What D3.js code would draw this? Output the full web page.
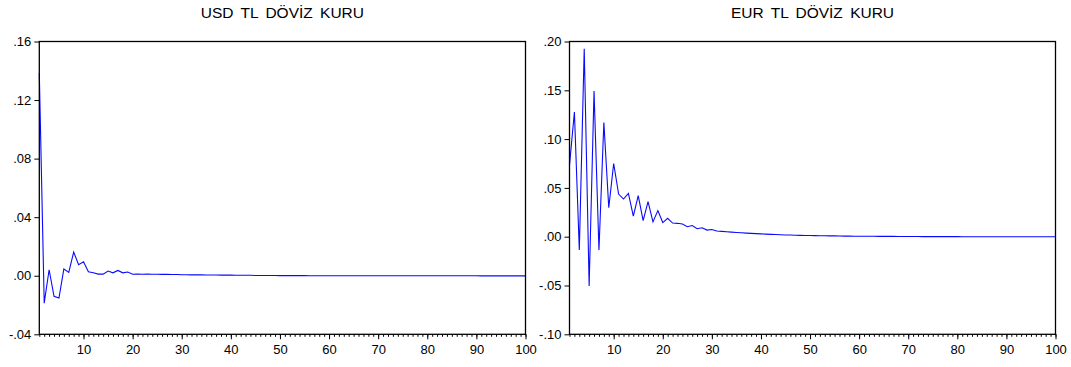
<!DOCTYPE html>
<html>
<head>
<meta charset="utf-8">
<script src="https://cdn.jsdelivr.net/npm/d3@7"></script>
<style>
  body { margin: 0; background: #fff; }
  text { font-family: "Liberation Sans", Arial, sans-serif; fill: #000; }
</style>
</head>
<body>
<svg id="chart" width="1071" height="367"></svg>
<script>
// periods 1..100
const periods = d3.range(1, 101);

const usdValues = [
  0.1384, -0.0187, 0.0041, -0.0141, -0.0152, 0.0046, 0.0023, 0.0162, 0.0075, 0.0096,
  0.0027, 0.0020, 0.0011, 0.0011, 0.0032, 0.0020, 0.0036, 0.0020, 0.0025, 0.0010,
  0.0012, 0.0010, 0.0011, 0.0010, 0.0010, 0.0009, 0.0009, 0.0008, 0.0008, 0.0007,
  0.0007, 0.0006, 0.0006, 0.0006, 0.0005, 0.0005, 0.0005, 0.0004, 0.0004, 0.0004,
  0.0003, 0.0003, 0.0003, 0.0003, 0.0002, 0.0002, 0.0002, 0.0002, 0.0002, 0.0001,
  0.0001, 0.0001, 0.0001, 0.0001, 0.0001, 0.0000, 0.0000, 0.0000, 0.0000, 0.0000,
  0.0000, 0.0000, 0.0000, 0.0000, 0.0000, 0.0000, 0.0000, 0.0000, 0.0000, 0.0000,
  0.0000, 0.0000, 0.0000, 0.0000, 0.0000, 0.0000, 0.0000, 0.0000, 0.0000, 0.0000,
  0.0000, 0.0000, 0.0000, 0.0000, 0.0000, 0.0000, 0.0000, 0.0000, 0.0000, 0.0000,
  -0.0001, -0.0001, -0.0001, -0.0001, -0.0001, -0.0001, -0.0001, -0.0001, -0.0001, -0.0001
];

const eurValues = [
  0.0733, 0.1278, -0.0136, 0.1926, -0.0504, 0.1493, -0.0136, 0.1170, 0.0297, 0.0750,
  0.0437, 0.0386, 0.0443, 0.0210, 0.0421, 0.0164, 0.0360, 0.0152, 0.0268, 0.0145,
  0.0188, 0.0140, 0.0137, 0.0130, 0.0102, 0.0114, 0.0082, 0.0091, 0.0068, 0.0074,
  0.0058, 0.0055, 0.0051, 0.0047, 0.0043, 0.0040, 0.0037, 0.0034, 0.0031, 0.0029,
  0.0026, 0.0024, 0.0022, 0.0020, 0.0018, 0.0017, 0.0015, 0.0014, 0.0013, 0.0012,
  0.0011, 0.0010, 0.0009, 0.0008, 0.0008, 0.0007, 0.0006, 0.0006, 0.0005, 0.0005,
  0.0004, 0.0004, 0.0004, 0.0003, 0.0003, 0.0003, 0.0003, 0.0002, 0.0002, 0.0002,
  0.0002, 0.0002, 0.0001, 0.0001, 0.0001, 0.0001, 0.0001, 0.0001, 0.0001, 0.0001,
  0.0000, 0.0000, 0.0000, 0.0000, 0.0000, 0.0000, 0.0000, 0.0000, 0.0000, 0.0000,
  0.0000, 0.0000, 0.0000, 0.0000, 0.0000, 0.0000, 0.0000, 0.0000, 0.0000, 0.0000
];

const xTicks = [10, 20, 30, 40, 50, 60, 70, 80, 90, 100];
const usdTicks = [-0.04, 0.00, 0.04, 0.08, 0.12, 0.16];
const eurTicks = [-0.10, -0.05, 0.00, 0.05, 0.10, 0.15, 0.20];

const svg = d3.select('#chart');

// ".16", "-.04" style labels, plain hyphen for minus
function fmt(dec) {
  return v => {
    let s = (Math.abs(v) < 1e-9 ? 0 : v).toFixed(dec);
    return s.replace(/^(-?)0\./, '$1.');
  };
}

function panel(opts) {
  const { left, right, top, bottom, title, values, yDomain, yTicks, dec } = opts;

  const x = d3.scaleLinear().domain([1, 100]).range([left, right]);
  const y = d3.scaleLinear().domain(yDomain).range([bottom, top]);

  const g = svg.append('g');

  // title
  g.append('text')
    .attr('x', (left + right) / 2)
    .attr('y', 17.5)
    .attr('text-anchor', 'middle')
    .style('font-size', '15.5px')
    .style('word-spacing', '3px')
    .text(title);

  // y axis
  const yAxis = d3.axisLeft(y)
    .tickValues(yTicks)
    .tickFormat(fmt(dec))
    .tickSize(5)
    .tickPadding(3);
  g.append('g')
    .attr('transform', `translate(${left},0)`)
    .call(yAxis)
    .call(a => a.select('.domain').remove())
    .call(a => a.selectAll('text').style('font-size', '13px').style('font-family', '"Liberation Sans", Arial, sans-serif'));

  // x axis minor ticks (every period)
  const xMinor = d3.axisBottom(x)
    .tickValues(periods)
    .tickSize(2.5)
    .tickFormat('');
  g.append('g')
    .attr('transform', `translate(0,${bottom})`)
    .call(xMinor)
    .call(a => a.select('.domain').remove());

  // x axis major ticks + labels
  const xAxis = d3.axisBottom(x)
    .tickValues(xTicks)
    .tickSize(5)
    .tickPadding(5);
  g.append('g')
    .attr('transform', `translate(0,${bottom})`)
    .call(xAxis)
    .call(a => a.select('.domain').remove())
    .call(a => a.selectAll('text').style('font-size', '13px').style('font-family', '"Liberation Sans", Arial, sans-serif'));

  // data line
  const line = d3.line()
    .x((d, i) => x(periods[i]))
    .y(d => y(d));
  g.append('path')
    .datum(values)
    .attr('fill', 'none')
    .attr('stroke', '#0a0aff')
    .attr('stroke-width', 1.1)
    .attr('d', line);

  // frame
  g.append('rect')
    .attr('x', left)
    .attr('y', top)
    .attr('width', right - left)
    .attr('height', bottom - top)
    .attr('fill', 'none')
    .attr('stroke', '#000')
    .attr('stroke-width', 1.3);
}

panel({
  left: 39.3, right: 525.5, top: 41.5, bottom: 334.3,
  title: 'USD TL DÖVİZ KURU', values: usdValues,
  yDomain: [-0.04, 0.16], yTicks: usdTicks, dec: 2
});

panel({
  left: 569.5, right: 1055.5, top: 41.5, bottom: 334.3,
  title: 'EUR TL DÖVİZ KURU', values: eurValues,
  yDomain: [-0.10, 0.20], yTicks: eurTicks, dec: 2
});
</script>
</body>
</html>
